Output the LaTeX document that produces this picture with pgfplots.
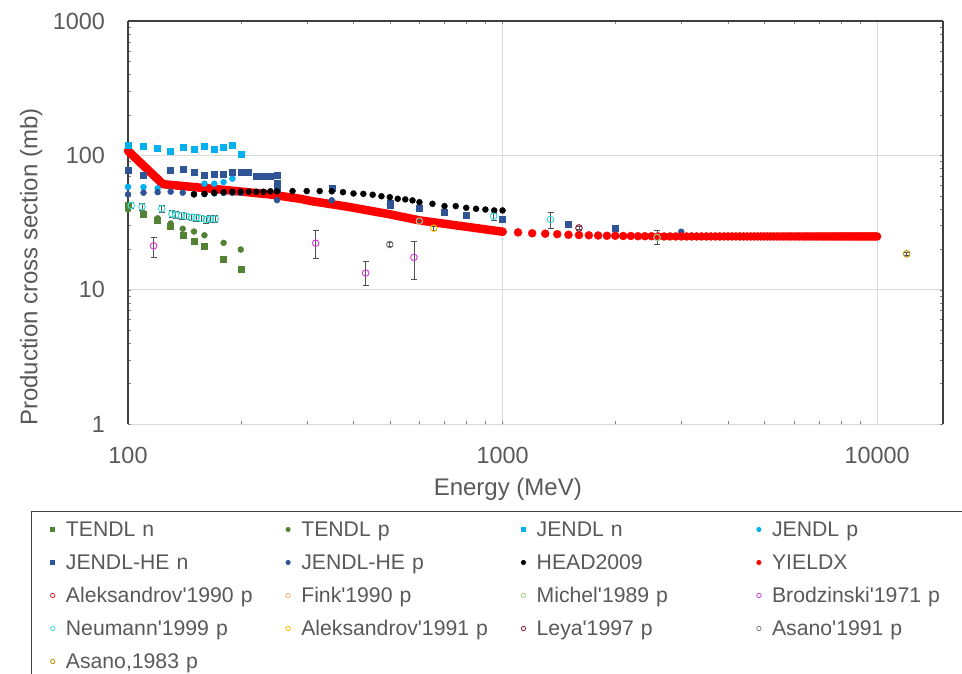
\documentclass[border=0pt]{standalone}
\usepackage{fontspec}
\setmainfont{Liberation Sans}
\usepackage{pgfplots}
\pgfplotsset{compat=1.18}

\definecolor{txt}{HTML}{595959}
\definecolor{framec}{HTML}{404040}
\definecolor{gridc}{HTML}{D9D9D9}
\definecolor{errc}{HTML}{505050}
\definecolor{tendl}{HTML}{548235}
\definecolor{jendl}{HTML}{00B0F0}
\definecolor{jendlhe}{HTML}{2F5597}
\definecolor{aleksA}{HTML}{E8262D}
\definecolor{fink}{HTML}{F4B183}
\definecolor{michel}{HTML}{A9D18E}
\definecolor{brod}{HTML}{D63FD6}
\definecolor{neumann}{HTML}{3FDCDC}
\definecolor{aleksB}{HTML}{FFC000}
\definecolor{leya}{HTML}{8B2040}
\definecolor{asanoA}{HTML}{808080}
\definecolor{asanoB}{HTML}{BF9000}

\newcommand{\q}{\textquotesingle}

\pgfplotsset{
  sq/.style={only marks, mark=square*, mark size=3pt, color=#1,
    legend image code/.code={\draw[##1, mark size=2pt] plot coordinates {(0pt,0pt)};}},
  dot/.style={only marks, mark=*, mark size=3pt, color=#1,
    legend image code/.code={\draw[##1, mark size=2pt] plot coordinates {(0pt,0pt)};}},
  ring/.style={only marks, mark=o, mark size=3.3pt, color=#1, mark options={line width=1pt},
    error bars/.cd, y dir=both, y explicit,
    error bar style={color=errc, line width=0.8pt},
    error mark options={rotate=90, mark size=3pt, color=errc, line width=0.8pt},
    /pgfplots/legend image code/.code={\draw[##1, mark size=2.2pt, mark options={line width=0.8pt}] plot coordinates {(0pt,0pt)};}},
}

\begin{document}
\begin{tikzpicture}
\begin{axis}[
  xmode=log, ymode=log,
  scale only axis, width=815pt, height=403pt,
  xmin=100, xmax=15000, ymin=1, ymax=1000,
  xtick={100,1000,10000}, xticklabels={100,1000,10000},
  ytick={1,10,100,1000}, yticklabels={1,10,100,1000},
  minor xtick={}, minor ytick={},
  major tick length=0pt,
  grid=major, major grid style={draw=gridc, line width=1pt},
  separate axis lines,
  x axis line style={draw=none},
  y axis line style={draw=framec, line width=1.2pt},
  tick label style={font=\fontsize{23.4}{28}\selectfont, text=txt, inner sep=0pt},
  xticklabel style={anchor=base, yshift=-39pt},
  yticklabel style={anchor=east, xshift=-23pt},
  xlabel={Energy (MeV)},
  xlabel style={at={(rel axis cs:0.466,-0.1762)}, anchor=base, font=\fontsize{24}{29}\selectfont, text=txt},
  ylabel={Production cross section (mb)},
  ylabel style={at={(rel axis cs:-0.1113,0.389)}, anchor=base, font=\fontsize{24}{29}\selectfont, text=txt},
  clip=false,
  legend columns=4,
  legend cell align=left,
  legend style={at={(rel axis cs:0,0)}, anchor=north west, xshift=-97pt, yshift=-87pt,
    draw=framec, line width=1pt, fill=white,
    inner xsep=19pt, inner ysep=8pt,
    font=\fontsize{21.2}{25}\selectfont, text=txt,
    row sep=13pt, column sep=0pt,
    /tikz/every odd column/.append style={column sep=9pt},
    nodes={text width=218pt, inner xsep=2pt, inner ysep=0pt, text height=17pt, text depth=3pt, line width=0pt, draw=none}},
]

% TENDL n
\addplot[sq=tendl] coordinates {
  (100,42.4) (110,36.7) (120,32.9) (130,29.6) (140,25.4)
  (150,22.8) (160,21.0) (180,16.9) (200,14.1)
};
\addlegendentry{TENDL n}
% TENDL p
\addplot[dot=tendl] coordinates {
  (100,39.5) (110,37.0) (120,34.0) (130,31.1) (140,28.4)
  (150,27.1) (160,25.4) (180,22.3) (200,19.9)
};
\addlegendentry{TENDL p}
% JENDL n
\addplot[sq=jendl] coordinates {
  (100,119) (110,116) (120,112.6) (130,108) (140,114) (150,111)
  (160,117) (170,111) (180,114) (190,119) (200,101.6)
};
\addlegendentry{JENDL n}
% JENDL p
\addplot[dot=jendl] coordinates {
  (100,58.2) (110,58.0) (120,56.8) (160,61.5) (170,61.5) (180,63.2) (190,67.0)
};
\addlegendentry{JENDL p}
% JENDL-HE n
\addplot[sq=jendlhe] coordinates {
  (100,77.3) (110,71.3) (130,77.3) (140,78.7) (150,75.5) (160,71.3)
  (170,72.1) (180,72.8) (190,74.3) (200,75.0) (210,75.0) (220,70.3)
  (230,70.3) (240,70.4) (250,70.6) (250,62.5) (250,56.0)
  (350,57.4) (500,44.4) (500,42.6) (600,40.7) (700,37.7) (800,35.8)
  (1000,33.3) (1500,30.9) (2000,28.5)
};
\addlegendentry{JENDL-HE n}
% JENDL-HE p
\addplot[dot=jendlhe] coordinates {
  (100,51.2) (110,52.7) (120,53.2) (130,53.6) (140,52.7) (150,51.5)
  (160,51.5) (170,52.0) (180,52.5) (190,52.5) (200,52.5) (250,46.4)
  (350,46.3) (500,43.0) (3000,27.0)
};
\addlegendentry{JENDL-HE p}
% HEAD2009
\addplot[dot=black] coordinates {
  (150,51.2) (160,51.7) (170,52.7) (180,53.2) (190,53.6) (200,53.6)
  (210,53.6) (220,53.6) (230,53.6) (240,54.0) (250,54.0) (275,54.2)
  (300,54.2) (325,54.2) (350,54.0) (375,53.2) (400,52.0) (425,51.7)
  (450,50.9) (475,49.6) (500,48.8) (525,47.5) (550,47.0) (575,46.2)
  (600,44.8) (650,43.6) (700,41.9) (750,41.9) (800,40.7) (850,40.0)
  (900,39.5) (950,38.9) (1000,38.9)
};
\addlegendentry{HEAD2009}
% YIELDX, dense part drawn as thick line
\addplot[red, line width=8.5pt, line join=round, line cap=round, forget plot] coordinates {
  (100,108) (124,61) (176,55.7) (239,51.2) (288,47.5) (312,45.4)
  (383,41.6) (500,36.4) (600,32.8) (780,29.7) (1000,27.0)
};
\addplot[dot=red, mark size=4pt] coordinates {
  (1000,27.0) (1100,26.7) (1200,26.3) (1300,26.1) (1400,25.9) (1500,25.6)
  (1600,25.5) (1700,25.4) (1800,25.3) (1900,25.2) (2000,25.2) (2100,25.1)
  (2200,25.1) (2300,25.0) (2400,25.0) (2500,25.0) (2600,24.9) (2700,24.9)
  (2800,24.9) (2900,24.9) (3000,24.9) (3100,24.9) (3200,24.9) (3300,24.9)
  (3400,24.9) (3500,24.9) (3600,24.9) (3700,24.9) (3800,24.9) (3900,24.9)
  (4000,24.9) (4100,24.9) (4200,24.9) (4300,24.9) (4400,24.9) (4500,24.9)
  (4600,24.9) (4700,24.9) (4800,24.9) (4900,24.9) (5000,24.9) (5100,24.9)
  (5200,24.9) (5300,24.9) (5400,24.9) (5500,24.9) (5600,24.9) (5700,24.9)
  (5800,24.9) (5900,24.9) (6000,24.9) (6100,24.9) (6200,24.9) (6300,24.9)
  (6400,24.9) (6500,24.9) (6600,24.9) (6700,24.9) (6800,24.9) (6900,24.9)
  (7000,24.9) (7100,24.9) (7200,24.9) (7300,24.9) (7400,24.9) (7500,24.9)
  (7600,24.9) (7700,24.9) (7800,24.9) (7900,24.9) (8000,24.9) (8100,24.9)
  (8200,24.9) (8300,24.9) (8400,24.9) (8500,24.9) (8600,24.9) (8700,24.9)
  (8800,24.9) (8900,24.9) (9000,24.9) (9100,24.9) (9200,24.9) (9300,24.9)
  (9400,24.9) (9500,24.9) (9600,24.9) (9700,24.9) (9800,24.9) (9900,24.9)
  (10000,24.9)
};
\addlegendentry{YIELDX}
% experimental data
\addlegendimage{ring=aleksA}
\addlegendentry{Aleksandrov\q1990 p}
\addplot[ring=fink] coordinates {(600,32.4) +- (0,0.9)};
\addlegendentry{Fink\q1990 p}
\addplot[ring=michel] coordinates {(2585,24.5) +- (0,2.9)};
\addlegendentry{Michel\q1989 p}
\addplot[ring=brod] coordinates {
  (117,21.2) += (0,3.5) -= (0,3.7)
  (317,22.2) += (0,5.4) -= (0,5.2)
  (431,13.3) += (0,2.9) -= (0,2.5)
  (580,17.4) += (0,5.6) -= (0,5.5)
};
\addlegendentry{Brodzinski\q1971 p}
\addplot[ring=neumann] coordinates {
  (102,42.4) +- (0,2.3) (109,41.4) +- (0,2.3) (123,40.0) +- (0,2.6)
  (131,36.7) +- (0,2.2) (134,36.0) +- (0,2.1) (139,35.6) +- (0,2.0)
  (143,35.2) +- (0,2.0) (148,34.6) +- (0,2.0) (152,34.3) +- (0,2.0)
  (157,33.9) +- (0,1.9) (162,33.3) +- (0,1.9) (166,33.6) +- (0,1.9)
  (171,33.6) +- (0,1.9)
  (947,35.2) += (0,1.7) -= (0,2.4)
  (1343,33.3) += (0,4.3) -= (0,4.5)
};
\addlegendentry{Neumann\q1999 p}
\addplot[ring=aleksB] coordinates {(655,28.7) +- (0,1.0)};
\addlegendentry{Aleksandrov\q1991 p}
\addplot[ring=leya] coordinates {(1600,28.8) +- (0,0.8)};
\addlegendentry{Leya\q1997 p}
\addplot[ring=asanoA] coordinates {(500,21.7) +- (0,0.7)};
\addlegendentry{Asano\q1991 p}
\addplot[ring=asanoB] coordinates {(12000,18.5) +- (0,0.6)};
\addlegendentry{Asano,1983 p}

\draw[framec, line width=1.2pt] (rel axis cs:0,1) -- (rel axis cs:1,1);
\end{axis}
\pgfresetboundingbox
\path[use as bounding box] (-128pt,-249pt) rectangle (834pt,424pt);
\end{tikzpicture}
\end{document}
